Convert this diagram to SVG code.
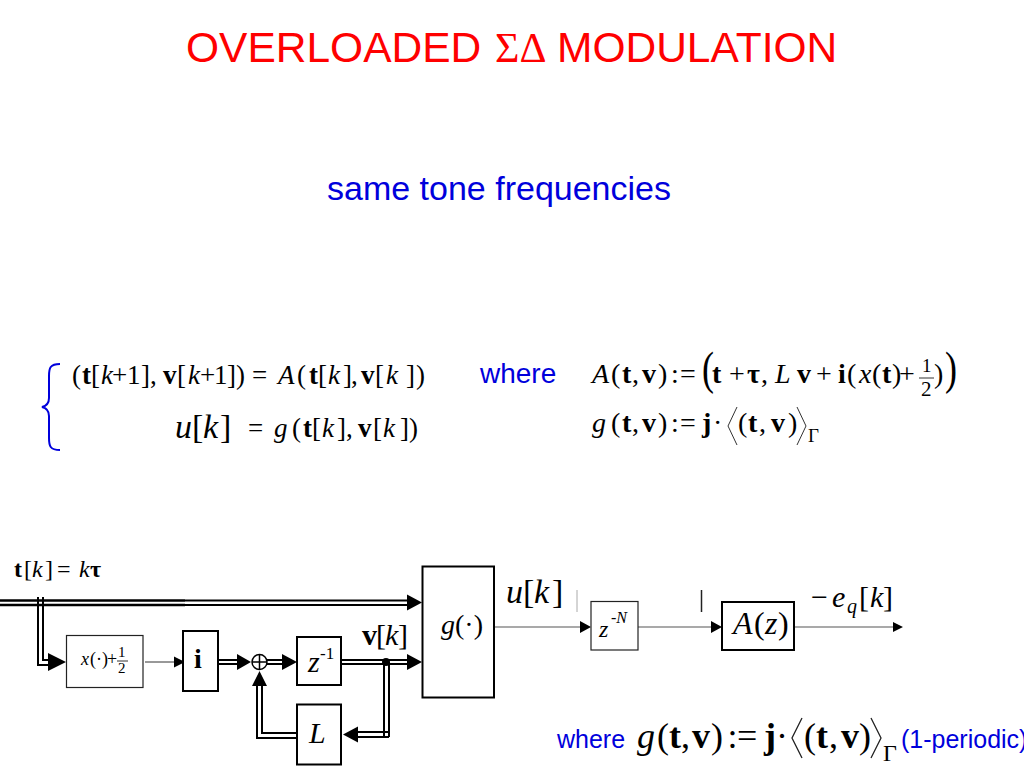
<svg xmlns="http://www.w3.org/2000/svg" width="1024" height="768" viewBox="0 0 1024 768">
<style>
text{font-family:"Liberation Serif","Times New Roman",serif;fill:#000}
.s{font-family:"Liberation Sans",Arial,sans-serif}
.i{font-style:italic}
.b{font-weight:bold}
.blue{fill:#0000dc}
.red{fill:#f00}
.box{fill:#fff;stroke:#000;stroke-width:2}
.thin{fill:#fff;stroke:#222;stroke-width:1.2}
.w{fill:none;stroke:#000;stroke-width:2}
.w3{fill:none;stroke:#000;stroke-width:2.7}
.l{fill:none;stroke:#333;stroke-width:1}
.e27{font-size:27px}
.e28{font-size:28px}
.e34{font-size:34px}
.e36{font-size:36px}
</style>
<rect width="1024" height="768" fill="#fff"/>
<text class="s red" x="186" y="62" font-size="42.500">OVERLOADED</text>
<text class="red" x="495" y="62" font-size="42">ΣΔ</text>
<text class="s red" x="557" y="62" font-size="42.500">MODULATION</text>
<text class="s blue" x="327" y="200" font-size="34">same tone frequencies</text>
<path d="M60 364C50 364 49 368 49 376V398C49 404 46 406 42 407C46 408 49 410 49 416V438C49 446 50 450 60 450" fill="none" stroke="#0000dc" stroke-width="2"/>
<g id="eq1" class="e27">
<text y="384"><tspan x="72">(</tspan><tspan class="b" x="82">t</tspan><tspan x="91">[</tspan><tspan class="i" x="101">k</tspan><tspan x="112">+</tspan><tspan x="127">1</tspan><tspan x="141">]</tspan><tspan x="150">,</tspan><tspan class="b" x="163">v</tspan><tspan x="177">[</tspan><tspan class="i" x="188">k</tspan><tspan x="200">+</tspan><tspan x="214">1</tspan><tspan x="227">]</tspan><tspan x="236">)</tspan><tspan x="252">=</tspan><tspan class="i" x="278">A</tspan><tspan x="297">(</tspan><tspan class="b" x="309">t</tspan><tspan x="318">[</tspan><tspan class="i" x="328">k</tspan><tspan x="343">]</tspan><tspan x="351">,</tspan><tspan class="b" x="361">v</tspan><tspan x="375">[</tspan><tspan class="i" x="386">k</tspan><tspan x="406">]</tspan><tspan x="416">)</tspan></text>
</g>
<g id="eq2">
<text class="e34" y="438"><tspan class="i" x="175">u</tspan><tspan x="192">[</tspan><tspan class="i" x="203">k</tspan><tspan x="220">]</tspan></text>
<text class="e27" y="437"><tspan x="248">=</tspan><tspan class="i" x="274">g</tspan><tspan x="292">(</tspan><tspan class="b" x="303">t</tspan><tspan x="312">[</tspan><tspan class="i" x="322">k</tspan><tspan x="337">]</tspan><tspan x="346">,</tspan><tspan class="b" x="358">v</tspan><tspan x="373">[</tspan><tspan class="i" x="383">k</tspan><tspan x="400">]</tspan><tspan x="409">)</tspan></text>
</g>
<text class="s blue" x="480" y="383" font-size="28">where</text>
<g id="eq3" class="e28">
<text y="383"><tspan class="i" x="592">A</tspan><tspan x="611">(</tspan><tspan class="b" x="622">t</tspan><tspan x="632">,</tspan><tspan class="b" x="642">v</tspan><tspan x="658">)</tspan><tspan x="671">:</tspan><tspan x="680">=</tspan><tspan class="b" x="712">t</tspan><tspan x="729">+</tspan><tspan class="b" x="747">τ</tspan><tspan x="761">,</tspan><tspan class="i" x="775">L</tspan><tspan class="b" x="797">v</tspan><tspan x="816">+</tspan><tspan class="b" x="838">i</tspan><tspan x="847">(</tspan><tspan class="i" x="859">x</tspan><tspan x="872">(</tspan><tspan class="b" x="882">t</tspan><tspan x="892">)</tspan><tspan x="899">+</tspan><tspan x="934">)</tspan></text>
<text x="702" y="384" font-size="36" transform="translate(702 384) scale(1 1.300) translate(-702 -384)">(</text>
<text x="945" y="384" font-size="36" transform="translate(945 384) scale(1 1.300) translate(-945 -384)">)</text>
<text x="922" y="372" font-size="19">1</text>
<text x="921" y="396" font-size="21">2</text>
<path d="M919 378H934" class="l"/>
</g>
<g id="eq4" class="e28">
<text y="432"><tspan class="i" x="592">g</tspan><tspan x="611">(</tspan><tspan class="b" x="622">t</tspan><tspan x="632">,</tspan><tspan class="b" x="642">v</tspan><tspan x="658">)</tspan><tspan x="671">:</tspan><tspan x="680">=</tspan><tspan class="b" x="702">j</tspan><tspan x="713">·</tspan><tspan x="738">(</tspan><tspan class="b" x="748">t</tspan><tspan x="759">,</tspan><tspan class="b" x="771">v</tspan><tspan x="788">)</tspan></text>
<text x="808" y="442" font-size="19">Γ</text>
<path d="M737 407L728 426L737 445M797 407L806 426L797 445" class="l"/>
</g>
<g id="connectors">
<path d="M0 600.500H185M0 605H185" class="w3"/>
<path d="M185 600.500H410M185 605H410" class="w"/>
<path d="M38 597V665H50M43 597V660H50" class="w"/>
<path d="M145 662H176" class="l"/>
<path d="M218 660H240M218 664H240M267 660H285M267 664H285M341 660H410M341 664H410" class="w"/>
<path d="M384 662V737M389 662V737M358 732H389M358 737H389" class="w"/>
<path d="M297 733H262V685M297 738H257V685" class="w"/>
<path d="M494 627H582M638 627H713M794 627H893" fill="none" stroke="#555" stroke-width="1.200"/>
<path d="M577 590V612" stroke="#aaa" stroke-width="1"/>
<path d="M701.500 590V612" stroke="#222" stroke-width="1.500"/>
<path d="M422 602.500L407 594.500V610.500ZM422 662L407 654V670ZM66 662L48 653V671ZM185 662L174 656.500V667.500ZM251 662L237 654V670ZM297 662L282 654V670ZM259.500 671L252 686H267ZM343 734.500L358 726.500V742.500ZM591 627L580 621V633ZM722 627L711 621V633ZM903 627L893 622V632Z"/>
<circle cx="386" cy="662" r="4"/>
</g>
<g id="sum"><circle cx="259.500" cy="662" r="7.500" fill="#fff" stroke="#000" stroke-width="1.500"/><path d="M252 662H267M259.500 654.500V669.500" stroke="#000" stroke-width="1.500"/></g>
<g id="box-x"><rect class="thin" x="66.500" y="635.500" width="76.500" height="52"/><text font-size="18" y="665"><tspan class="i" x="81">x</tspan><tspan x="90">(·)</tspan><tspan x="107">+</tspan></text><text x="118" y="657" font-size="15">1</text><text x="118" y="673" font-size="15">2</text><path d="M117 661H128" class="l"/></g>
<g id="box-i"><rect class="box" x="183" y="631" width="35" height="60"/><text class="b" x="194" y="668" font-size="28">i</text></g>
<g id="box-z1"><rect class="box" x="297" y="637" width="44" height="48"/><text class="i" x="308" y="672" font-size="30">z</text><text x="320" y="659" font-size="17">-1</text></g>
<g id="box-l"><rect class="box" x="297" y="704.500" width="44" height="60"/><text class="i" x="309" y="743" font-size="30">L</text></g>
<g id="box-g"><rect class="box" x="422.500" y="566.500" width="71.500" height="131"/><text y="634" font-size="28"><tspan class="i" x="441">g</tspan><tspan x="455">(·)</tspan></text></g>
<g id="box-zn"><rect class="thin" x="591" y="601.500" width="47" height="48.500"/><text class="i" x="599" y="637" font-size="24">z</text><text class="i" x="611" y="623" font-size="16">-N</text></g>
<g id="box-a"><rect class="box" x="722" y="602" width="72" height="48"/><text y="634" font-size="32"><tspan class="i" x="733">A</tspan><tspan x="754">(</tspan><tspan class="i" x="765">z</tspan><tspan x="778">)</tspan></text></g>
<g id="labels">
<text y="577" font-size="24"><tspan class="b" x="14">t</tspan><tspan x="24">[</tspan><tspan class="i" x="32">k</tspan><tspan x="45">]</tspan><tspan x="57">=</tspan><tspan class="i" x="79">k</tspan><tspan class="b" x="90">τ</tspan></text>
<text y="645" font-size="30"><tspan class="b" x="362">v</tspan><tspan x="376">[</tspan><tspan class="i" x="385">k</tspan><tspan x="398">]</tspan></text>
<text class="e34" y="603"><tspan class="i" x="506">u</tspan><tspan x="523">[</tspan><tspan class="i" x="534">k</tspan><tspan x="552">]</tspan></text>
<text font-size="30" y="607"><tspan x="811">−</tspan><tspan class="i" x="832">e</tspan><tspan x="859">[</tspan><tspan class="i" x="870">k</tspan><tspan x="883">]</tspan></text>
<text class="i" x="847" y="613" font-size="20">q</text>
</g>
<g id="eq5">
<text class="s blue" x="557" y="748" font-size="25">where</text>
<text class="e36" y="748"><tspan class="i" x="637">g</tspan><tspan x="657">(</tspan><tspan class="b" x="669">t</tspan><tspan x="681">,</tspan><tspan class="b" x="692">v</tspan><tspan x="711">)</tspan><tspan x="727.500">:</tspan><tspan x="737">=</tspan><tspan class="b" x="764">j</tspan><tspan x="776">·</tspan><tspan x="804">(</tspan><tspan class="b" x="816">t</tspan><tspan x="829">,</tspan><tspan class="b" x="841">v</tspan><tspan x="859">)</tspan></text>
<path d="M802 718L792 738L802 758M871 718L881 738L871 758" fill="none" stroke="#222" stroke-width="1.300"/>
<text x="883" y="761" font-size="24">Γ</text>
<text class="s blue" x="901" y="748" font-size="25">(1-periodic)</text>
</g>
</svg>
